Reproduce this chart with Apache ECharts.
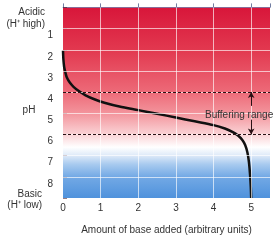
<!DOCTYPE html>
<html>
<head>
<meta charset="utf-8">
<script src="https://cdn.jsdelivr.net/npm/echarts@6/dist/echarts.min.js"></script>
<style>
  html, body { margin: 0; padding: 0; background: #fff; }
  #chart { width: 273px; height: 240px; }
</style>
</head>
<body>
<div id="chart"></div>
<script>
// titration curve
const baseAdded = [0, 0.01, 0.03, 0.06, 0.1, 0.18, 0.28, 0.42, 0.6, 0.85, 1.1, 1.5, 2.0, 2.5, 3.0, 3.5, 4.0, 4.3, 4.5, 4.65, 4.76, 4.84, 4.9, 4.94, 4.97, 4.99, 5.0]
const phLevel = [2.05, 2.45, 2.8, 3.05, 3.3, 3.55, 3.75, 3.95, 4.15, 4.35, 4.5, 4.68, 4.85, 5.02, 5.2, 5.38, 5.56, 5.72, 5.88, 6.05, 6.25, 6.5, 6.85, 7.3, 7.9, 8.5, 9]
const xTicks = [1, 2, 3, 4, 5]
const yTicks = [1, 2, 3, 4, 5, 6, 7, 8]
const bufferLimits = [4, 6]
const arrowX = 5
const upperArrow = [4, 4.65]
const lowerArrow = [5.3, 6]

const textFont = { fontFamily: 'Liberation Sans', fontSize: 10, color: '#333' }

const chart = echarts.init(document.getElementById('chart'))

const option = {
  animation: false,
  grid: {
    left: 63,
    right: 1,
    top: 7.4,
    bottom: 37,
    show: true,
    borderWidth: 0,
    backgroundColor: new echarts.graphic.LinearGradient(0, 0, 0, 1, [
      { offset: 0, color: '#d8163a' },
      { offset: 2 / 9, color: '#e2384f' },
      { offset: 4 / 9, color: '#ed6a78' },
      { offset: 5 / 9, color: '#f3949c' },
      { offset: 6 / 9, color: '#fad3d6' },
      { offset: 6.6 / 9, color: '#ffffff' },
      { offset: 7 / 9, color: '#dde9f8' },
      { offset: 7.4 / 9, color: '#a9cbef' },
      { offset: 8 / 9, color: '#73a9e5' },
      { offset: 1, color: '#4f92dc' }
    ])
  },
  xAxis: {
    type: 'value',
    min: 0,
    max: 5.5,
    interval: 1,
    axisLine: { show: true, lineStyle: { color: 'rgba(40,80,150,0.5)', width: 1 } },
    axisTick: { inside: true, length: 4, lineStyle: { color: 'rgba(20,40,100,0.6)' } },
    axisLabel: {
      ...textFont,
      margin: 5,
      formatter: v => (Number.isInteger(v) ? String(v) : '')
    },
    splitLine: { show: false },
    name: 'Amount of base added (arbitrary units)',
    nameLocation: 'middle',
    nameGap: 27,
    nameTextStyle: { ...textFont, verticalAlign: 'top' }
  },
  yAxis: {
    type: 'value',
    inverse: true,
    min: 0,
    max: 9,
    interval: 1,
    axisLine: { show: false },
    axisTick: { inside: true, length: 4, lineStyle: { color: 'rgba(70,20,30,0.55)' } },
    axisLabel: {
      ...textFont,
      margin: 10,
      verticalAlign: 'top',
      padding: [2, 0, 0, 0],
      formatter: v => (v >= 1 && v <= 8 ? String(v) : '')
    },
    splitLine: { show: false }
  },
  graphic: [
    { type: 'text', x: 45, y: 12, style: { text: 'Acidic', align: 'right', verticalAlign: 'middle', fill: '#333', font: '10px "Liberation Sans"' } },
    { type: 'text', x: 45, y: 24, style: { text: '(H\u207A high)', align: 'right', verticalAlign: 'middle', fill: '#333', font: '10px "Liberation Sans"' } },
    { type: 'text', x: 29, y: 110, style: { text: 'pH', align: 'center', verticalAlign: 'middle', fill: '#333', font: '10px "Liberation Sans"' } },
    { type: 'text', x: 42, y: 194, style: { text: 'Basic', align: 'right', verticalAlign: 'middle', fill: '#333', font: '10px "Liberation Sans"' } },
    { type: 'text', x: 42, y: 205, style: { text: '(H\u207A low)', align: 'right', verticalAlign: 'middle', fill: '#333', font: '10px "Liberation Sans"' } },
    { type: 'text', x: 205, y: 115, z: 10, style: { text: 'Buffering range', align: 'left', verticalAlign: 'middle', fill: '#333', font: '10px "Liberation Sans"' } }
  ],
  series: [
    {
      // white grid lines
      type: 'line',
      data: [],
      z: 1,
      silent: true,
      markLine: {
        silent: true,
        symbol: 'none',
        label: { show: false },
        lineStyle: { color: 'rgba(255,255,255,0.65)', width: 1, type: 'solid' },
        data: [
          ...xTicks.map(v => ({ xAxis: v })),
          ...yTicks.map(v => ({ yAxis: v }))
        ]
      }
    },
    {
      // buffering range limits and arrows
      type: 'line',
      data: [],
      z: 2,
      silent: true,
      markLine: {
        silent: true,
        symbol: 'none',
        label: { show: false },
        lineStyle: { color: '#2a1014', width: 1, type: [3, 2] },
        data: [
          ...bufferLimits.map(v => ({ yAxis: v })),
          [
            { coord: [arrowX, upperArrow[0]], symbol: 'arrow', symbolSize: [5, 6], lineStyle: { type: 'solid' } },
            { coord: [arrowX, upperArrow[1]], symbol: 'none' }
          ],
          [
            { coord: [arrowX, lowerArrow[0]], symbol: 'none', lineStyle: { type: 'solid' } },
            { coord: [arrowX, lowerArrow[1]], symbol: 'arrow', symbolSize: [5, 6] }
          ]
        ]
      }
    },
    {
      type: 'line',
      z: 3,
      data: baseAdded.map((x, i) => [x, phLevel[i]]),
      showSymbol: false,
      smooth: 0.3,
      lineStyle: { color: '#111', width: 2.5 }
    }
  ]
}

chart.setOption(option)
</script>
</body>
</html>
